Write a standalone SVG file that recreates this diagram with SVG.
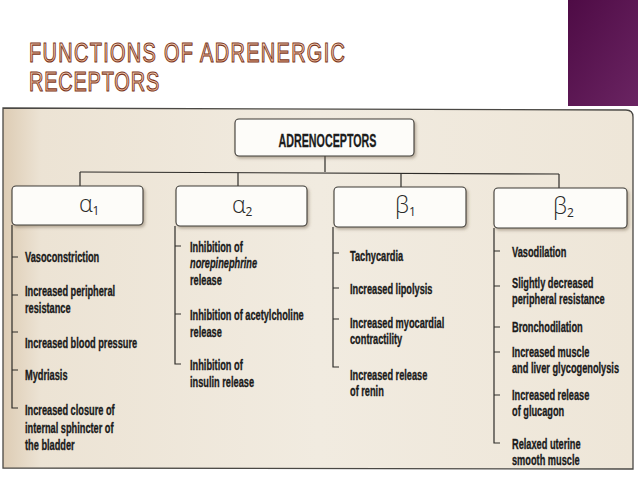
<svg xmlns="http://www.w3.org/2000/svg" width="638" height="479" viewBox="0 0 638 479">
<defs>
<linearGradient id="titleFill" x1="0" y1="0" x2="0" y2="1">
<stop offset="0" stop-color="#fde4d0"/>
<stop offset="1" stop-color="#f1ad88"/>
</linearGradient>
<linearGradient id="purple" x1="0" y1="0" x2="1" y2="1">
<stop offset="0" stop-color="#4e0b45"/>
<stop offset="1" stop-color="#6a2462"/>
</linearGradient>
<linearGradient id="paper" x1="0" y1="0" x2="1" y2="0">
<stop offset="0" stop-color="#ddccb4"/>
<stop offset="0.06" stop-color="#ece3d4"/>
<stop offset="0.5" stop-color="#f1ebe0"/>
<stop offset="1" stop-color="#eee6d8"/>
</linearGradient>
<filter id="shadow" x="-10%" y="-20%" width="125%" height="150%">
<feDropShadow dx="1.5" dy="2" stdDeviation="1.5" flood-color="#6b5a45" flood-opacity="0.45"/>
</filter>
<style>
.title{font-family:"Liberation Sans",Arial,sans-serif;font-size:27px;fill:url(#titleFill);stroke:#7a3620;stroke-width:1.1;}
.box{fill:#fdfcf9;stroke:#3c3a36;stroke-width:1.1;filter:url(#shadow);}
.head{font-family:"Liberation Sans",Arial,sans-serif;font-weight:bold;font-size:18px;fill:#1c1c1c;stroke:#1c1c1c;stroke-width:0.3;}
.greek{font-family:"Open Sans","DejaVu Sans",sans-serif;font-weight:300;font-size:23px;fill:#2a2a2a;}
.sub{font-size:12px;font-weight:400;}
.item{font-family:"Liberation Sans",Arial,sans-serif;font-weight:bold;font-size:15px;fill:#1a1a1a;stroke:#1a1a1a;stroke-width:0.35;}
.ln{fill:none;stroke:#2e2c29;stroke-width:1.2;}
</style>
</defs>

<rect x="0" y="0" width="638" height="479" fill="#ffffff"/>
<rect x="568" y="0" width="70" height="106" fill="url(#purple)"/>

<g id="title" transform="translate(29,0) scale(0.74,1)">
<text class="title" x="0" y="62" textLength="427" lengthAdjust="spacing">FUNCTIONS OF ADRENERGIC</text>
<text class="title" x="0" y="91" textLength="176" lengthAdjust="spacing">RECEPTORS</text>
</g>

<path d="M3,108 L626,110 Q633,110 633,117 L633,469 L3,468 Z" fill="url(#paper)" stroke="#4a4844" stroke-width="1.3"/>

<g id="connectors">
<path class="ln" d="M325,156 L325,172"/>
<path class="ln" d="M80,172 L559,174"/>
<path class="ln" d="M80,172 L80,186"/>
<path class="ln" d="M238,172.7 L238,186"/>
<path class="ln" d="M401,173.3 L401,187"/>
<path class="ln" d="M559,174 L559,188"/>
<path class="ln" d="M12,225 L12,408 L18,408 M12,257 L18,257 M12,295 L18,295 M12,332 L18,332 M12,370 L18,370"/>
<path class="ln" d="M175,226 L175,364 L181,364 M175,246 L181,246 M175,314 L181,314"/>
<path class="ln" d="M333,227 L333,367 L339,367 M333,253 L339,253 M333,288 L339,288 M333,319 L339,319"/>
<path class="ln" d="M494,228 L494,443 L500,443 M494,251 L500,251 M494,286 L500,286 M494,327 L500,327 M494,352 L500,352 M494,395 L500,395"/>
</g>

<g id="adrenoceptors">
<rect class="box" x="235" y="119" width="179" height="37" rx="4"/>
<text class="head" x="327.5" y="147" text-anchor="middle" textLength="98" lengthAdjust="spacingAndGlyphs">ADRENOCEPTORS</text>
</g>

<g id="alpha1">
<rect class="box" x="12" y="186" width="131" height="39" rx="4"/>
<text class="greek" x="79" y="212">α<tspan class="sub" dy="3">1</tspan></text>
<g transform="translate(25,0) scale(0.615,1)">
<text class="item" x="0" y="262">Vasoconstriction</text>
<text class="item" x="0" y="296">Increased peripheral</text>
<text class="item" x="0" y="313">resistance</text>
<text class="item" x="0" y="348">Increased blood pressure</text>
<text class="item" x="0" y="380">Mydriasis</text>
<text class="item" x="0" y="415">Increased closure of</text>
<text class="item" x="0" y="433">internal sphincter of</text>
<text class="item" x="0" y="450">the bladder</text>
</g>
</g>

<g id="alpha2">
<rect class="box" x="176" y="186" width="131" height="40" rx="4"/>
<text class="greek" x="232" y="213">α<tspan class="sub" dy="3">2</tspan></text>
<g transform="translate(190,0) scale(0.615,1)">
<text class="item" x="0" y="252">Inhibition of</text>
<text class="item" x="0" y="268" font-style="italic">norepinephrine</text>
<text class="item" x="0" y="285">release</text>
<text class="item" x="0" y="320">Inhibition of acetylcholine</text>
<text class="item" x="0" y="337">release</text>
<text class="item" x="0" y="370">Inhibition of</text>
<text class="item" x="0" y="387">insulin release</text>
</g>
</g>

<g id="beta1">
<rect class="box" x="334" y="187" width="132" height="40" rx="4"/>
<text class="greek" x="395" y="213">β<tspan class="sub" dy="3">1</tspan></text>
<g transform="translate(350,0) scale(0.615,1)">
<text class="item" x="0" y="261">Tachycardia</text>
<text class="item" x="0" y="294">Increased lipolysis</text>
<text class="item" x="0" y="328">Increased myocardial</text>
<text class="item" x="0" y="344">contractility</text>
<text class="item" x="0" y="380">Increased release</text>
<text class="item" x="0" y="396">of renin</text>
</g>
</g>

<g id="beta2">
<rect class="box" x="494" y="188" width="133" height="40" rx="4"/>
<text class="greek" x="553" y="214">β<tspan class="sub" dy="3">2</tspan></text>
<g transform="translate(512,0) scale(0.615,1)">
<text class="item" x="0" y="257">Vasodilation</text>
<text class="item" x="0" y="288">Slightly decreased</text>
<text class="item" x="0" y="304">peripheral resistance</text>
<text class="item" x="0" y="332">Bronchodilation</text>
<text class="item" x="0" y="357">Increased muscle</text>
<text class="item" x="0" y="373">and liver glycogenolysis</text>
<text class="item" x="0" y="400">Increased release</text>
<text class="item" x="0" y="416">of glucagon</text>
<text class="item" x="0" y="449">Relaxed uterine</text>
<text class="item" x="0" y="465">smooth muscle</text>
</g>
</g>
</svg>
